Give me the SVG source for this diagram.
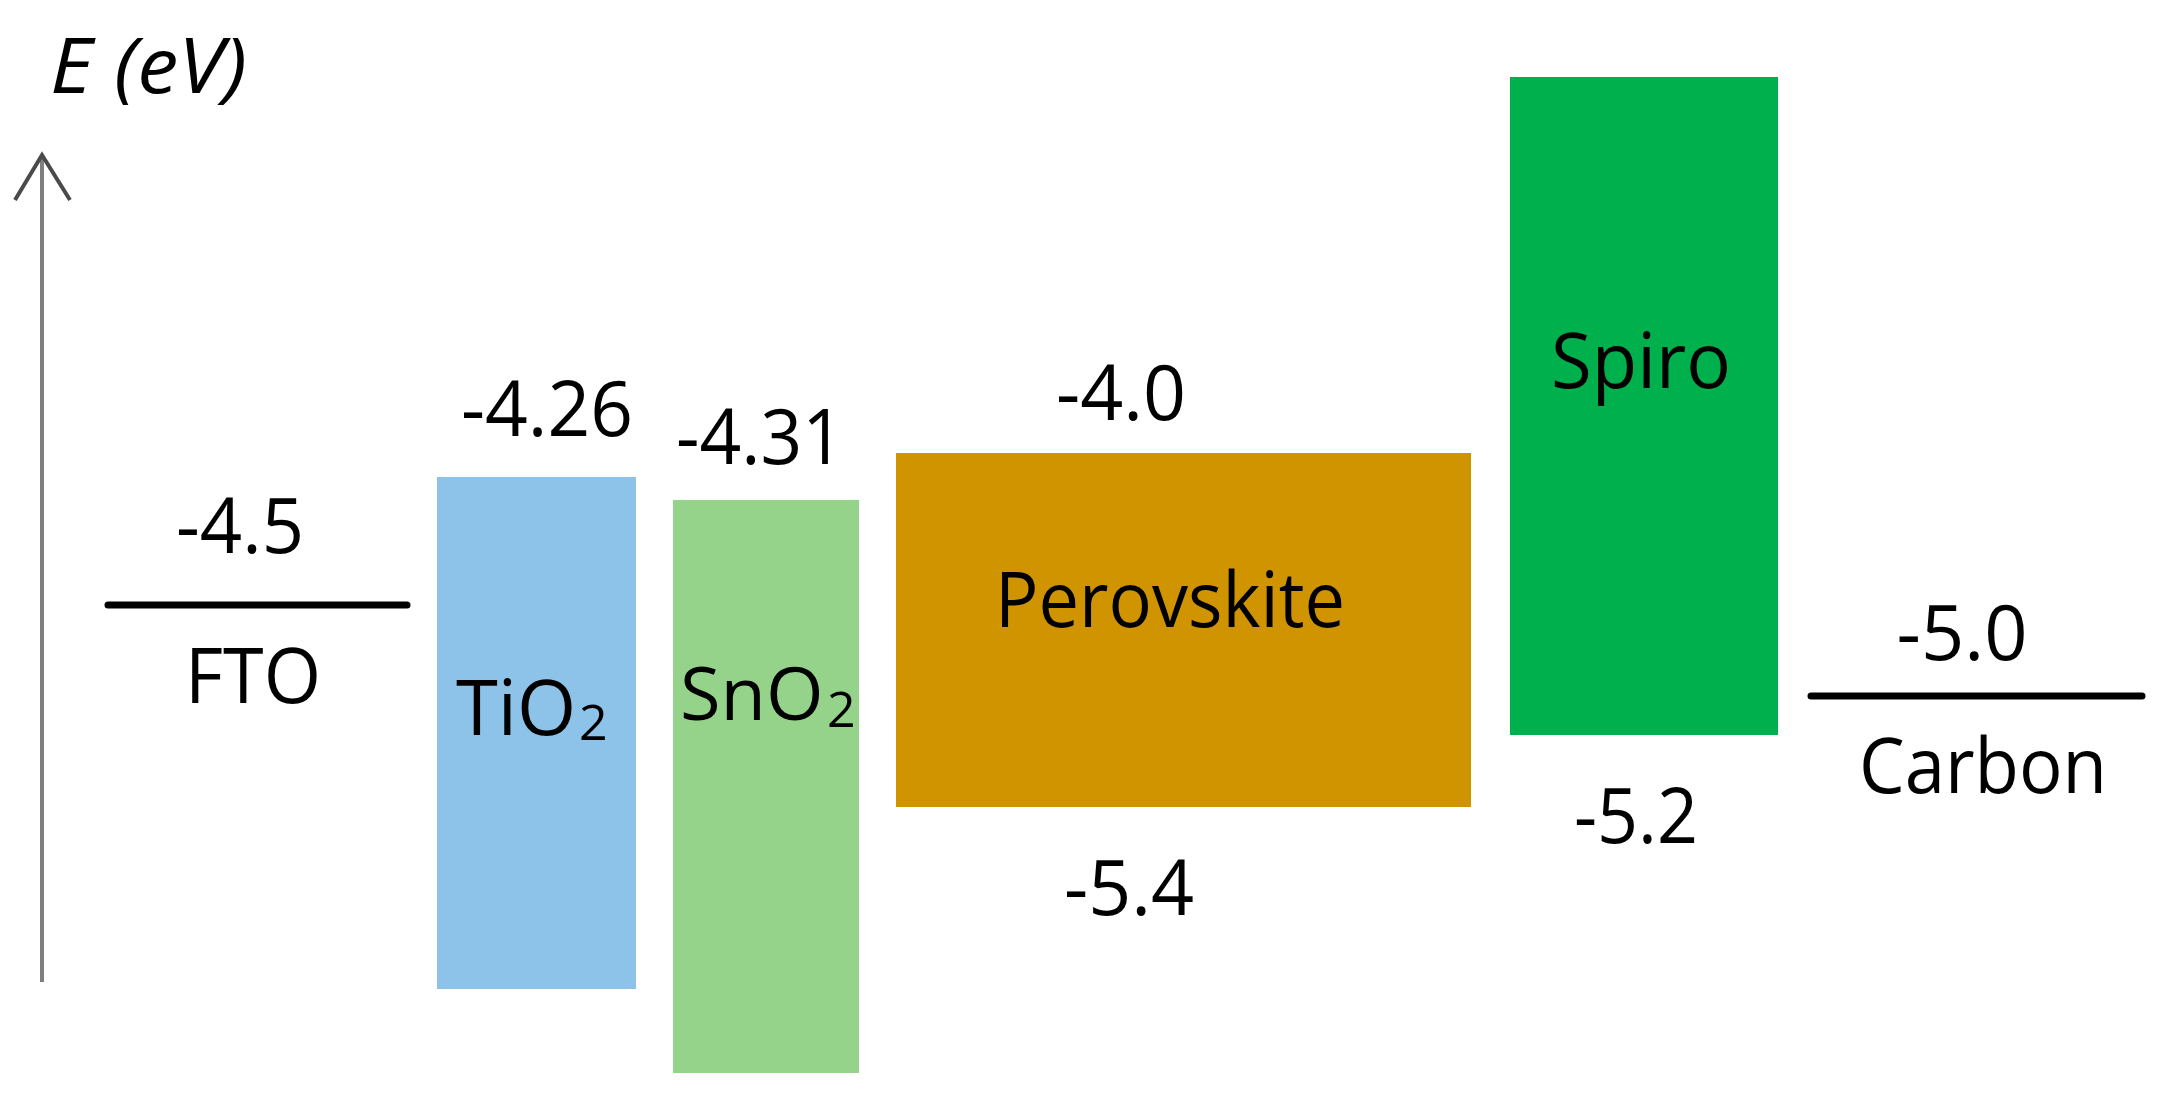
<svg xmlns="http://www.w3.org/2000/svg" width="2171" height="1110" viewBox="0 0 2171 1110">
  <defs>
    <style>
      .t { font-family: "Open Sans", "Liberation Sans", sans-serif; font-size: 76px; fill: #000; }
      .sub { font-family: "Open Sans", "Liberation Sans", sans-serif; font-size: 50px; fill: #000; }
      .c { text-anchor: middle; }
      .lvl { stroke: #000; stroke-width: 7; stroke-linecap: round; }
    </style>
  </defs>
  <rect width="2171" height="1110" fill="#ffffff"/>

  <g id="axis">
    <line x1="42" y1="156" x2="42" y2="982" stroke="#7f7f7f" stroke-width="4"/>
    <polyline points="15,200 42,155 70,200" fill="none" stroke="#4a4a4a" stroke-width="4" stroke-linejoin="miter"/>
    <text class="t" x="50" y="93" font-style="italic" textLength="197" lengthAdjust="spacingAndGlyphs">E (eV)</text>
  </g>

  <g id="fto">
    <line class="lvl" x1="108" y1="605" x2="407" y2="605"/>
    <text class="t c" x="240" y="553" textLength="128" lengthAdjust="spacingAndGlyphs">-4.5</text>
    <text class="t c" x="253" y="703" textLength="136" lengthAdjust="spacingAndGlyphs">FTO</text>
  </g>

  <g id="tio2">
    <rect x="437" y="477" width="199" height="512" fill="#8dc3e8"/>
    <text class="t c" x="547" y="436" textLength="172" lengthAdjust="spacingAndGlyphs">-4.26</text>
    <text class="t" x="456" y="735">TiO</text>
    <text class="sub" x="579" y="740">2</text>
  </g>

  <g id="sno2">
    <rect x="673" y="500" width="186" height="573" fill="#95d38a"/>
    <text class="t c" x="760" y="464" textLength="168" lengthAdjust="spacingAndGlyphs">-4.31</text>
    <text class="t" x="680" y="720" font-size="74" style="font-size:74px">SnO</text>
    <text class="sub" x="827" y="727">2</text>
  </g>

  <g id="perovskite">
    <rect x="896" y="453" width="575" height="354" fill="#cf9400"/>
    <text class="t c" x="1121" y="420" textLength="130" lengthAdjust="spacingAndGlyphs">-4.0</text>
    <text class="t c" x="1170" y="627" textLength="350" lengthAdjust="spacingAndGlyphs">Perovskite</text>
    <text class="t c" x="1129" y="915" textLength="130" lengthAdjust="spacingAndGlyphs">-5.4</text>
  </g>

  <g id="spiro">
    <rect x="1510" y="77" width="268" height="658" fill="#00b04c"/>
    <text class="t c" x="1641" y="388" textLength="180" lengthAdjust="spacingAndGlyphs">Spiro</text>
    <text class="t c" x="1636" y="843" textLength="124" lengthAdjust="spacingAndGlyphs">-5.2</text>
  </g>

  <g id="carbon">
    <line class="lvl" x1="1811" y1="696" x2="2142" y2="696"/>
    <text class="t c" x="1962" y="660" textLength="131" lengthAdjust="spacingAndGlyphs">-5.0</text>
    <text class="t c" x="1983" y="793" textLength="248" lengthAdjust="spacingAndGlyphs">Carbon</text>
  </g>

  <g id="connectors"></g>
</svg>
